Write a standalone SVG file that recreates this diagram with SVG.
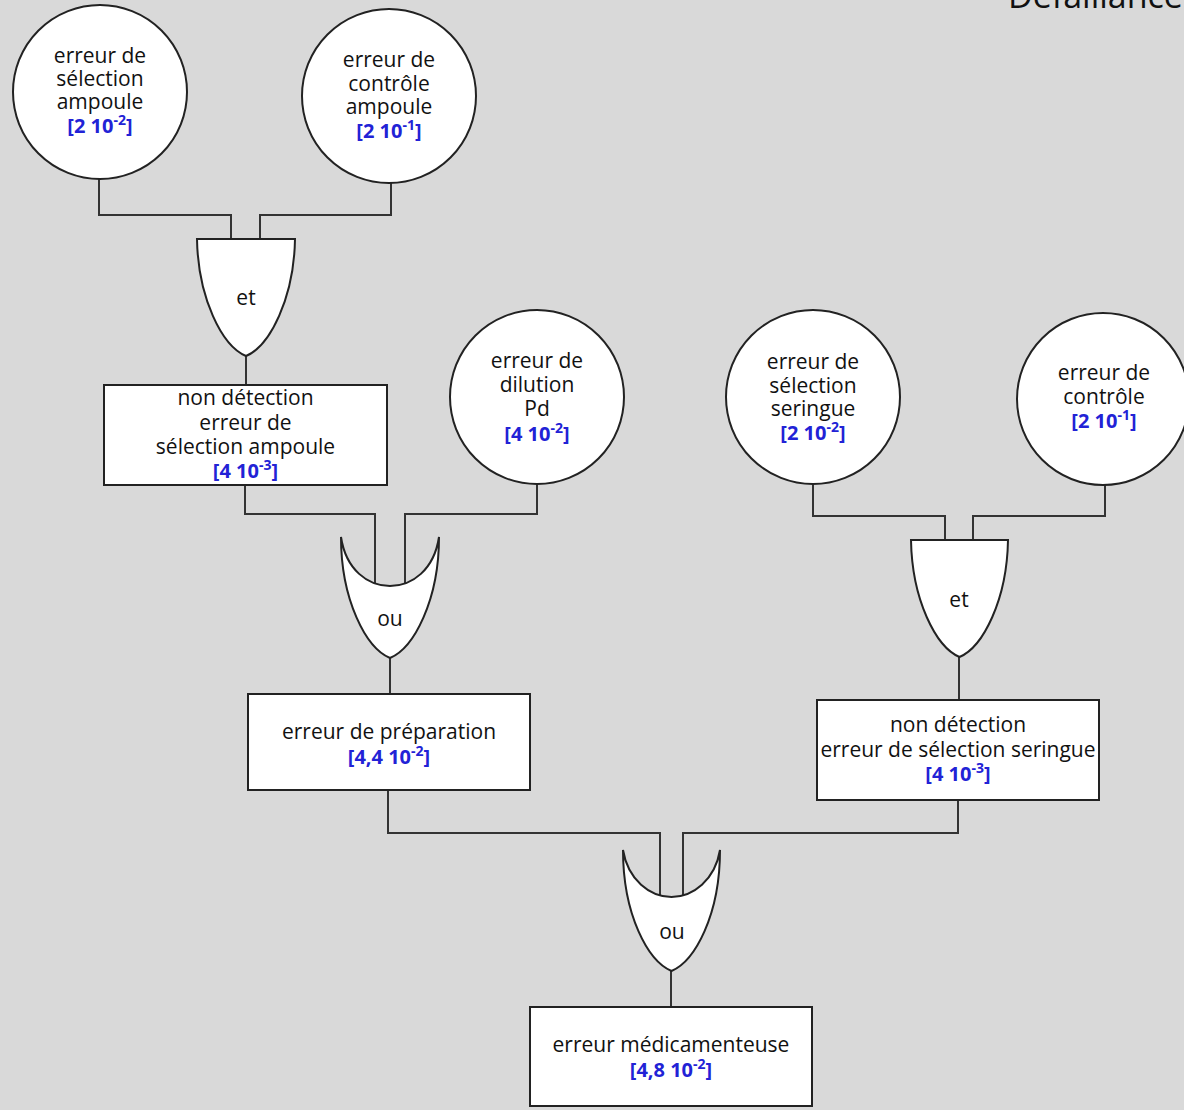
<svg xmlns="http://www.w3.org/2000/svg" width="1184" height="1110" viewBox="0 0 1184 1110">
<style>
.bg{fill:#d9d9d9}
.shape{fill:#fff;stroke:#222;stroke-width:2}
.conn{fill:none;stroke:#333;stroke-width:2}
.t{font-family:"Open Sans","Noto Sans",sans-serif;font-size:21px;fill:#111;text-anchor:middle}
.v{font-family:"Open Sans","Noto Sans",sans-serif;font-size:20px;font-weight:bold;fill:#2222d6;text-anchor:middle}
.sup{font-size:14px}
.title{font-family:"Open Sans","Noto Sans",sans-serif;font-size:34px;fill:#111}
</style>
<rect class="bg" x="0" y="0" width="1184" height="1110"/>
<text class="title" x="1008" y="8">Défaillance</text>
<g id="connectors">
<polyline class="conn" points="99,179 99,215 231,215 231,245"/>
<polyline class="conn" points="391,183 391,215 260,215 260,245"/>
<polyline class="conn" points="246,350 246,385"/>
<polyline class="conn" points="245,485 245,514 375,514 375,592"/>
<polyline class="conn" points="537,484 537,514 405,514 405,592"/>
<polyline class="conn" points="390,650 390,694"/>
<polyline class="conn" points="813,484 813,516 945,516 945,546"/>
<polyline class="conn" points="1105,485 1105,516 973,516 973,546"/>
<polyline class="conn" points="959,650 959,700"/>
<polyline class="conn" points="388,790 388,833 660,833 660,903"/>
<polyline class="conn" points="958,800 958,833 683,833 683,903"/>
<polyline class="conn" points="671,965 671,1007"/>
</g>
<g id="c1">
<circle class="shape" cx="100" cy="92" r="87"/>
<text class="t" x="100" y="63">erreur de</text>
<text class="t" x="100" y="86">sélection</text>
<text class="t" x="100" y="109">ampoule</text>
<text class="v" x="100" y="133">[2 10<tspan class="sup" dy="-8">-2</tspan><tspan dy="8">]</tspan></text>
</g>
<g id="c2">
<circle class="shape" cx="389" cy="96" r="87"/>
<text class="t" x="389" y="67">erreur de</text>
<text class="t" x="389" y="91">contrôle</text>
<text class="t" x="389" y="114">ampoule</text>
<text class="v" x="389" y="138">[2 10<tspan class="sup" dy="-8">-1</tspan><tspan dy="8">]</tspan></text>
</g>
<g id="and1">
<path class="shape" d="M197,239 H295 C294,298 270,346 246,356 C222,346 198,298 197,239 Z"/>
<text class="t" x="246" y="305">et</text>
</g>
<g id="b1">
<rect class="shape" x="104" y="385" width="283" height="100"/>
<text class="t" x="245.5" y="405">non détection</text>
<text class="t" x="245.5" y="430">erreur de</text>
<text class="t" x="245.5" y="454">sélection ampoule</text>
<text class="v" x="245.5" y="478">[4 10<tspan class="sup" dy="-8">-3</tspan><tspan dy="8">]</tspan></text>
</g>
<g id="c3">
<circle class="shape" cx="537" cy="397" r="87"/>
<text class="t" x="537" y="368">erreur de</text>
<text class="t" x="537" y="392">dilution</text>
<text class="t" x="537" y="416">Pd</text>
<text class="v" x="537" y="441">[4 10<tspan class="sup" dy="-8">-2</tspan><tspan dy="8">]</tspan></text>
</g>
<g id="or1">
<path class="shape" d="M341,537 C346,570 368,586 390,586 C412,586 434,570 439,537 C439,600 414,648 390,658 C366,648 341,600 341,537 Z"/>
<text class="t" x="390" y="626">ou</text>
</g>
<g id="b2">
<rect class="shape" x="248" y="694" width="282" height="96"/>
<text class="t" x="389" y="739">erreur de préparation</text>
<text class="v" x="389" y="764">[4,4 10<tspan class="sup" dy="-8">-2</tspan><tspan dy="8">]</tspan></text>
</g>
<g id="c4">
<circle class="shape" cx="813" cy="397" r="87"/>
<text class="t" x="813" y="369">erreur de</text>
<text class="t" x="813" y="393">sélection</text>
<text class="t" x="813" y="416">seringue</text>
<text class="v" x="813" y="440">[2 10<tspan class="sup" dy="-8">-2</tspan><tspan dy="8">]</tspan></text>
</g>
<g id="c5">
<circle class="shape" cx="1103" cy="399" r="86"/>
<text class="t" x="1104" y="380">erreur de</text>
<text class="t" x="1104" y="404">contrôle</text>
<text class="v" x="1104" y="428">[2 10<tspan class="sup" dy="-8">-1</tspan><tspan dy="8">]</tspan></text>
</g>
<g id="and2">
<path class="shape" d="M911,540 H1008 C1007,600 983,647 959.5,657 C936,647 912,600 911,540 Z"/>
<text class="t" x="959" y="607">et</text>
</g>
<g id="b3">
<rect class="shape" x="817" y="700" width="282" height="100"/>
<text class="t" x="958" y="732">non détection</text>
<text class="t" x="958" y="757">erreur de sélection seringue</text>
<text class="v" x="958" y="781">[4 10<tspan class="sup" dy="-8">-3</tspan><tspan dy="8">]</tspan></text>
</g>
<g id="or2">
<path class="shape" d="M623,850 C628,880 650,897 671.5,897 C693,897 715,880 720,850 C720,915 695,961 671.5,971 C648,961 623,915 623,850 Z"/>
<text class="t" x="672" y="939">ou</text>
</g>
<g id="b4">
<rect class="shape" x="530" y="1007" width="282" height="99"/>
<text class="t" x="671" y="1052">erreur médicamenteuse</text>
<text class="v" x="671" y="1077">[4,8 10<tspan class="sup" dy="-8">-2</tspan><tspan dy="8">]</tspan></text>
</g>
</svg>
